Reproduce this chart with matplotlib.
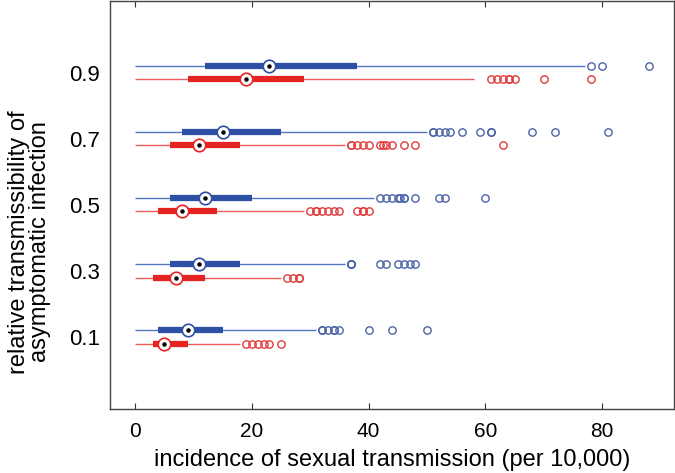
import matplotlib.pyplot as plt

plt.rcParams['font.family'] = ['Liberation Sans', 'DejaVu Sans']

# relative transmissibility levels (rows)
levels = [0.1, 0.3, 0.5, 0.7, 0.9]

# blue series: whisker low, q1, median, q3, whisker high
blue_lo = [0, 0, 0, 0, 0]
blue_q1 = [4, 6, 6, 8, 12]
blue_med = [9, 11, 12, 15, 23]
blue_q3 = [15, 18, 20, 25, 38]
blue_hi = [31, 36, 41, 50, 77]
blue_out = [
    [32, 32, 33, 34, 34, 35, 40, 44, 50],
    [37, 37, 37, 42, 43, 45, 46, 47, 48],
    [42, 43, 44, 45, 45.3, 46, 46, 48, 52, 53, 60],
    [51, 51, 52, 53, 54, 56, 59, 61, 61, 68, 72, 81],
    [78, 80, 88],
]

# red series
red_lo = [0, 0, 0, 0, 0]
red_q1 = [3, 3, 4, 6, 9]
red_med = [5, 7, 8, 11, 19]
red_q3 = [9, 12, 14, 18, 29]
red_hi = [18, 25, 29, 36, 58]
red_out = [
    [19, 20, 21, 22, 23, 25],
    [26, 27, 28, 28],
    [30, 31, 31, 32, 33, 34, 35, 38, 39, 39, 40],
    [37, 37, 38, 39, 40, 42, 42.5, 43, 44, 46, 48, 63],
    [61, 62, 63, 64, 64, 65, 70, 78],
]

fig = plt.figure(figsize=(6.75, 4.73), dpi=100)
ax = fig.add_axes([0.163, 0.1353, 0.8355, 0.8626])

series = [
    (0.02, blue_lo, blue_q1, blue_med, blue_q3, blue_hi, blue_out,
     '#2d4fa4', '#5474c4', '#4a62a8'),
    (-0.02, red_lo, red_q1, red_med, red_q3, red_hi, red_out,
     '#e52421', '#ec5a5a', '#e03a3a'),
]

for off, lo, q1, med, q3, hi, out, c_box, c_line, c_out in series:
    for i, lev in enumerate(levels):
        y = lev + off
        ax.hlines(y, lo[i], hi[i], color=c_line, lw=1.0, zorder=2)
        ax.hlines(y, q1[i], q3[i], color=c_box, lw=4.5, zorder=3)
        ax.plot(out[i], [y] * len(out[i]), 'o', mfc='none', mec=c_out,
                ms=5.3, mew=1.0, zorder=3)
        ax.plot(med[i], y, 'o', mfc='white', mec=c_box, ms=9, mew=1.2,
                zorder=4)
        ax.plot(med[i], y, 'o', color='black', ms=2.2, zorder=5)

ax.set_xlim(-4.3, 92.3)
ax.set_ylim(-0.118, 1.117)
ax.set_xticks([0, 20, 40, 60, 80])
ax.set_yticks(levels)
ax.set_yticklabels(['0.1', '0.3', '0.5', '0.7', '0.9'])
ax.tick_params(axis='x', direction='in', top=True, length=4, pad=9,
               labelsize=15, color='#333333')
ax.tick_params(axis='y', length=0, pad=7, labelsize=16)
for s in ax.spines.values():
    s.set_color('#444444')
    s.set_linewidth(1.0)

ax.set_xlabel('incidence of sexual transmission (per 10,000)', fontsize=17,
              labelpad=6)
ax.set_ylabel('relative transmissibility of\nasymptomatic infection',
              fontsize=17, linespacing=0.95)
ax.yaxis.set_label_coords(-0.105, 0.41)

fig.savefig('out.png', dpi=100)
